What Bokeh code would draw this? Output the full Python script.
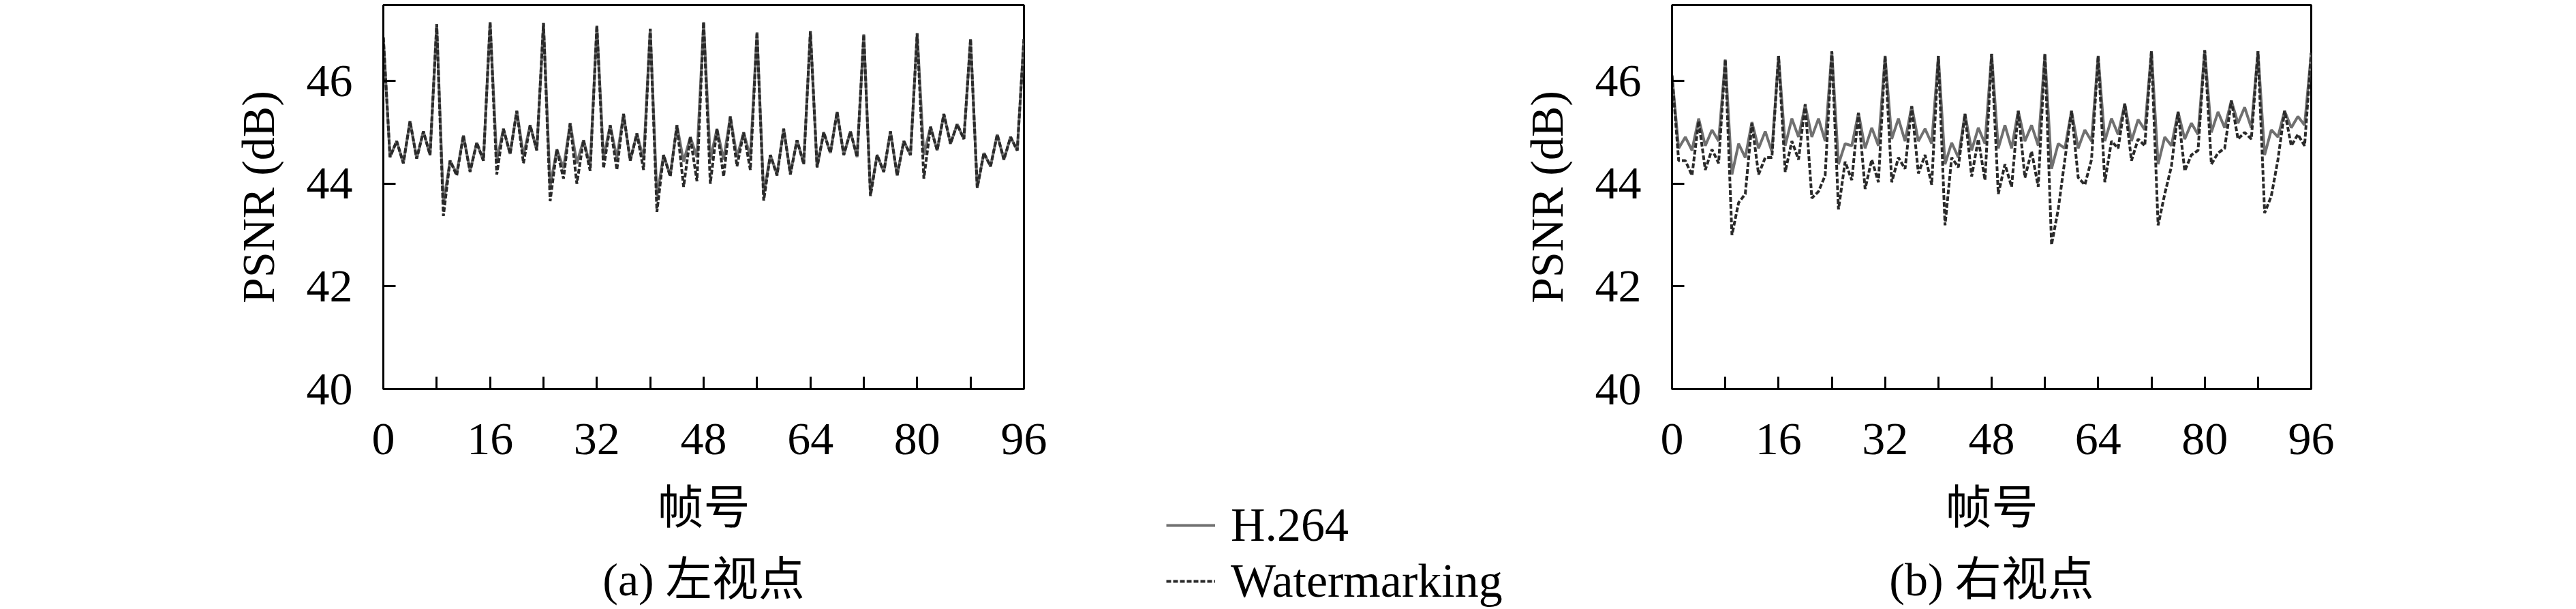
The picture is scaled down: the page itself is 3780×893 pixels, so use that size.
from bokeh.plotting import figure
from bokeh.models import Range1d, FixedTicker, Legend, LegendItem, LinearAxis
from bokeh.layouts import row
from bokeh.embed import file_html
from bokeh.resources import INLINE

# ---------------- data ----------------
frames = list(range(97))

left_h264 = [46.85, 44.52, 44.83, 44.40, 45.22, 44.49, 45.02, 44.56, 47.11, 43.60,
             44.45, 44.20, 44.94, 44.25, 44.80, 44.45, 47.15, 44.45, 45.07, 44.58,
             45.42, 44.55, 45.14, 44.65, 47.13, 43.95, 44.67, 44.30, 45.18, 44.40,
             44.85, 44.35, 47.08, 44.50, 45.14, 44.50, 45.36, 44.45, 44.98, 44.47,
             47.02, 43.75, 44.56, 44.16, 45.14, 44.43, 44.91, 44.52, 47.15, 44.47,
             45.07, 44.47, 45.31, 44.52, 45.00, 44.52, 46.95, 43.80, 44.56, 44.18,
             45.07, 44.20, 44.85, 44.40, 46.97, 44.32, 45.00, 44.60, 45.40, 44.56,
             45.02, 44.52, 46.91, 43.80, 44.56, 44.23, 45.02, 44.16, 44.83, 44.56,
             46.93, 44.56, 45.11, 44.65, 45.36, 44.78, 45.16, 44.87, 46.82, 43.92,
             44.60, 44.34, 44.96, 44.47, 44.91, 44.65, 46.82]

left_wm = [46.85, 44.52, 44.83, 44.40, 45.22, 44.49, 45.02, 44.56, 47.11, 43.37,
           44.45, 44.16, 44.94, 44.23, 44.80, 44.45, 47.15, 44.18, 45.07, 44.58,
           45.42, 44.40, 45.14, 44.65, 47.13, 43.66, 44.67, 44.10, 45.18, 44.00,
           44.85, 44.25, 47.08, 44.30, 45.14, 44.27, 45.36, 44.45, 44.98, 44.27,
           47.02, 43.45, 44.56, 44.14, 45.14, 43.94, 44.91, 44.05, 47.15, 44.00,
           45.07, 44.14, 45.31, 44.34, 45.00, 44.27, 46.95, 43.67, 44.56, 44.16,
           45.07, 44.18, 44.85, 44.38, 46.97, 44.32, 45.00, 44.60, 45.40, 44.56,
           45.02, 44.52, 46.91, 43.76, 44.56, 44.23, 45.02, 44.16, 44.83, 44.56,
           46.93, 44.10, 45.11, 44.65, 45.36, 44.78, 45.16, 44.87, 46.82, 43.92,
           44.60, 44.34, 44.96, 44.47, 44.91, 44.65, 46.82]

right_h264 = [46.11, 44.69, 44.91, 44.65, 45.27, 44.74, 45.05, 44.83, 46.42, 44.18,
              44.78, 44.51, 45.20, 44.69, 45.02, 44.63, 46.49, 44.74, 45.27, 44.91,
              45.53, 44.91, 45.27, 44.83, 46.58, 44.38, 44.78, 44.74, 45.38, 44.69,
              45.09, 44.74, 46.49, 44.87, 45.27, 44.83, 45.51, 44.83, 45.07, 44.78,
              46.49, 44.38, 44.80, 44.51, 45.36, 44.65, 45.09, 44.78, 46.53, 44.69,
              45.14, 44.69, 45.42, 44.83, 45.14, 44.74, 46.53, 44.29, 44.78, 44.69,
              45.42, 44.69, 45.05, 44.83, 46.49, 44.83, 45.27, 44.96, 45.56, 44.83,
              45.25, 45.05, 46.58, 44.38, 44.91, 44.74, 45.40, 44.87, 45.18, 44.96,
              46.60, 45.00, 45.40, 45.09, 45.62, 45.18, 45.49, 45.09, 46.58, 44.56,
              45.05, 44.91, 45.42, 45.09, 45.31, 45.14, 46.55]

right_wm = [46.11, 44.45, 44.45, 44.16, 45.22, 44.27, 44.67, 44.40, 46.42, 43.00,
            43.63, 43.80, 45.18, 44.18, 44.51, 44.51, 46.49, 44.23, 44.83, 44.47,
            45.55, 43.72, 43.85, 44.16, 46.58, 43.50, 44.43, 44.07, 45.38, 43.90,
            44.47, 44.03, 46.49, 44.03, 44.51, 44.29, 45.51, 44.20, 44.56, 43.98,
            46.49, 43.19, 44.51, 44.32, 45.36, 44.14, 44.87, 44.07, 46.53, 43.80,
            44.38, 43.94, 45.42, 44.12, 44.63, 43.94, 46.53, 42.81, 43.50, 44.47,
            45.42, 44.12, 43.98, 44.47, 46.49, 44.03, 44.83, 44.69, 45.56, 44.45,
            44.87, 44.74, 46.58, 43.19, 43.80, 44.34, 45.40, 44.25, 44.56, 44.65,
            46.60, 44.38, 44.60, 44.69, 45.62, 44.87, 45.00, 44.87, 46.58, 43.43,
            43.76, 44.47, 45.42, 44.74, 44.96, 44.74, 46.55]

x_ticks = [0, 16, 32, 48, 64, 80, 96]
x_minor_ticks = [8, 24, 40, 56, 72, 88]
y_ticks = [40, 42, 44, 46]
series_names = ["H.264", "Watermarking"]
captions = ["(a) 左视点", "(b) 右视点"]
x_label = "帧号"
y_label = "PSNR (dB)"

# ---------------- style ----------------
FONT = "Liberation Serif, Noto Sans CJK SC"
FS = "68px"
H_COLOR = "#707070"
W_COLOR = "#2a2a2a"
LW = 4
DASH = "7 3"
FIG_H = 893


def make_panel(h_vals, w_vals, caption, width, left_border, right_border):
    p = figure(width=width, height=FIG_H,
               x_range=Range1d(0, 96), y_range=Range1d(40, 47.48),
               toolbar_location=None, output_backend="svg",
               min_border_left=left_border, min_border_right=right_border,
               min_border_top=7, min_border_bottom=323)
    p.grid.visible = False
    p.outline_line_color = "black"
    p.outline_line_width = 3
    p.outline_line_alpha = 1.0

    p.line(frames, h_vals, line_color=H_COLOR, line_width=LW)
    p.line(frames, w_vals, line_color=W_COLOR, line_width=LW, line_dash=DASH)

    for ax in (p.xaxis[0], p.yaxis[0]):
        ax.axis_line_color = "black"
        ax.axis_line_width = 3
        ax.major_tick_line_color = "black"
        ax.major_tick_line_width = 3
        ax.major_tick_in = 18
        ax.major_tick_out = 0
        ax.major_label_text_font = FONT
        ax.major_label_text_font_size = FS
        ax.major_label_text_color = "black"
        ax.axis_label_text_font = FONT
        ax.axis_label_text_font_size = FS
        ax.axis_label_text_font_style = "normal"
        ax.axis_label_text_color = "black"

    xa = p.xaxis[0]
    xa.ticker = FixedTicker(ticks=x_ticks, minor_ticks=x_minor_ticks)
    xa.minor_tick_in = 18
    xa.minor_tick_out = 0
    xa.minor_tick_line_color = "black"
    xa.minor_tick_line_width = 3
    xa.major_label_standoff = 51
    xa.axis_label = x_label
    xa.axis_label_standoff = 38

    ya = p.yaxis[0]
    ya.ticker = FixedTicker(ticks=y_ticks, minor_ticks=[])
    ya.minor_tick_line_color = None
    ya.major_label_standoff = 45
    ya.axis_label = y_label
    ya.axis_label_standoff = 30

    # caption under the panel, as a tick-less axis label
    cap = LinearAxis(ticker=FixedTicker(ticks=[], minor_ticks=[]),
                     axis_line_color=None, major_tick_line_color=None,
                     minor_tick_line_color=None, major_tick_out=0, major_tick_in=0,
                     minor_tick_out=0, minor_tick_in=0,
                     major_label_text_font_size="0px", major_label_standoff=0,
                     axis_label=caption, axis_label_standoff=26,
                     axis_label_text_font=FONT, axis_label_text_font_size=FS,
                     axis_label_text_font_style="normal", axis_label_text_color="black")
    p.add_layout(cap, "below")
    return p


left = make_panel(left_h264, left_wm, captions[0], 1608, 562, 106)

# middle panel: holds only the shared legend
mid = figure(width=620, height=FIG_H, x_range=Range1d(200, 201), y_range=Range1d(0, 1),
             toolbar_location=None, output_backend="svg", min_border=0)
mid.frame_align = False
mid.axis.visible = False
mid.grid.visible = False
mid.outline_line_color = None
rh = mid.line(frames, left_h264, line_color=H_COLOR, line_width=LW)
rw = mid.line(frames, left_wm, line_color=W_COLOR, line_width=LW, line_dash=DASH)
legend = Legend(items=[LegendItem(label=series_names[0], renderers=[rh]),
                       LegendItem(label=series_names[1], renderers=[rw])],
                location=(103, 0), glyph_width=72, glyph_height=82, label_height=82,
                label_standoff=23, spacing=0, padding=0, margin=0,
                border_line_color=None, background_fill_alpha=0,
                label_text_font=FONT, label_text_font_size="70px", label_text_color="black")
mid.add_layout(legend)

right = make_panel(right_h264, right_wm, captions[1], 1552, 224, 389)

layout = row(left, mid, right)
open("out.html", "w").write(file_html(layout, INLINE))
